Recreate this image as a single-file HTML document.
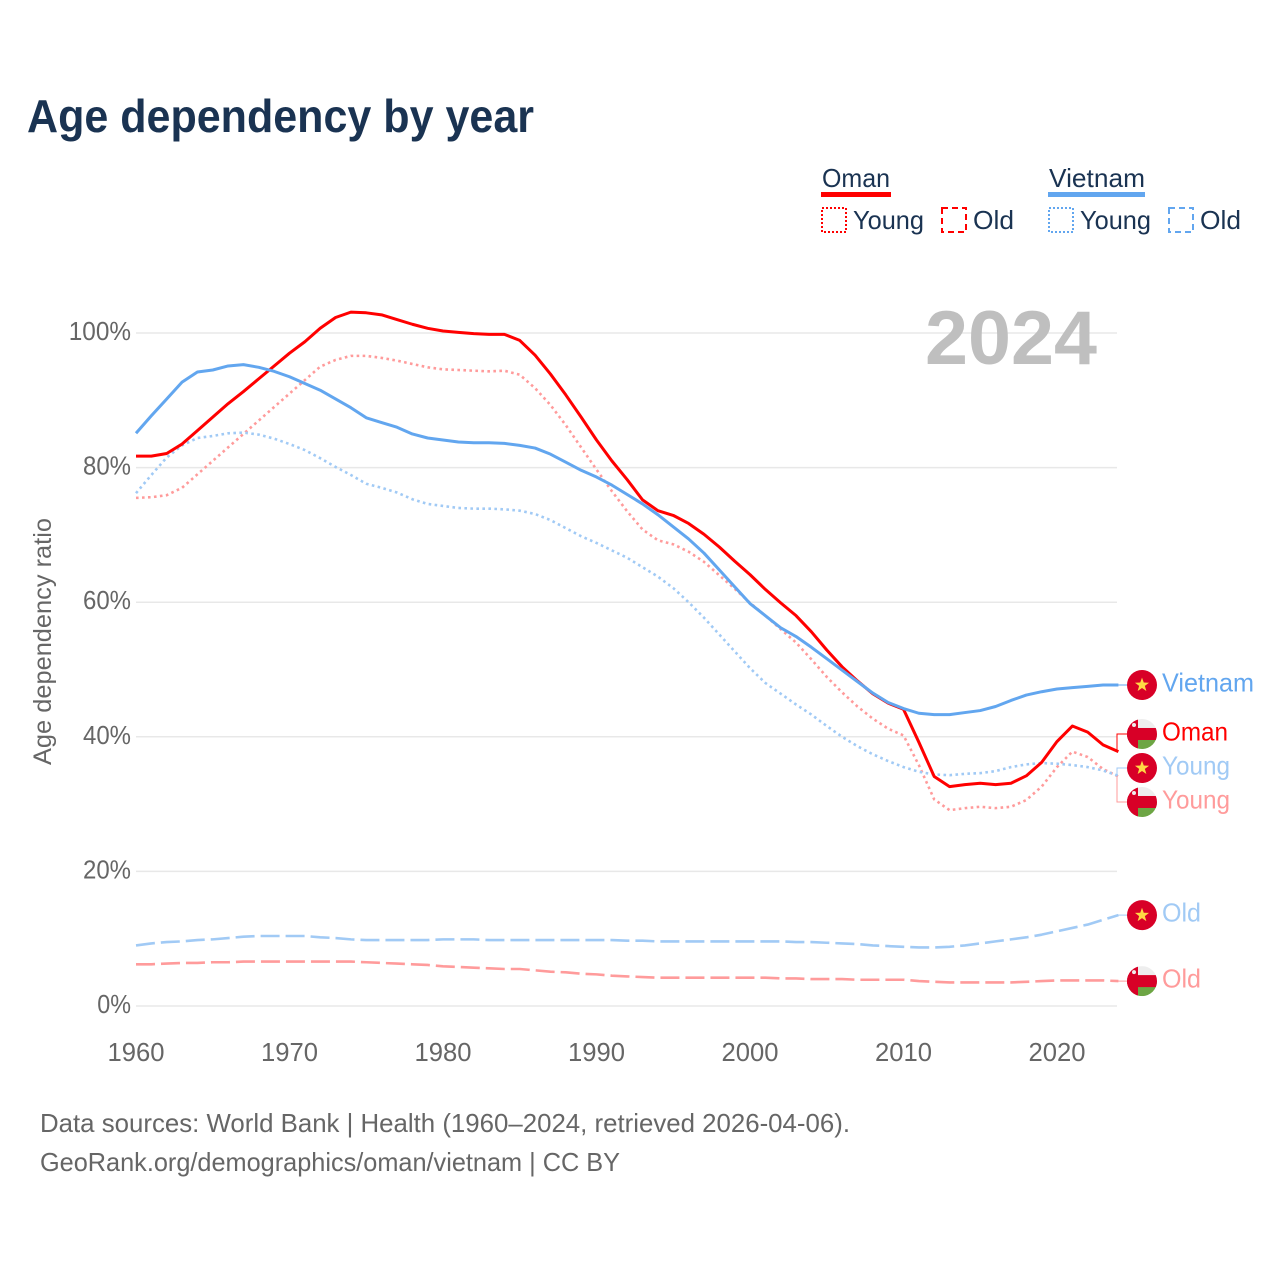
<!DOCTYPE html>
<html lang="en">
<head>
<meta charset="utf-8">
<title>Age dependency by year</title>
<style>
html,body{margin:0;padding:0;background:#fff;width:1280px;height:1280px;overflow:hidden}
svg{display:block;font-family:"Liberation Sans",sans-serif}
</style>
</head>
<body>
<svg id="chart" xmlns="http://www.w3.org/2000/svg" width="1280" height="1280" viewBox="0 0 1280 1280">
  <text x="27" y="132" font-size="46" font-weight="700" fill="#1a3352" textLength="507" lengthAdjust="spacingAndGlyphs">Age dependency by year</text>

  <g>
    <text x="822" y="187" font-size="26" fill="#1a3352" textLength="68" lengthAdjust="spacingAndGlyphs">Oman</text>
    <rect x="821" y="192" width="70" height="5" fill="#ff0000"/>
    <rect x="822" y="208" width="24" height="24" fill="none" stroke="#ff0000" stroke-width="2" stroke-dasharray="2 2"/>
    <text x="853" y="229" font-size="26" fill="#1a3352" textLength="71" lengthAdjust="spacingAndGlyphs">Young</text>
    <rect x="942" y="208" width="24" height="24" fill="none" stroke="#ff0000" stroke-width="2" stroke-dasharray="6 4"/>
    <text x="973" y="229" font-size="26" fill="#1a3352" textLength="41" lengthAdjust="spacingAndGlyphs">Old</text>

    <text x="1049" y="187" font-size="26" fill="#1a3352" textLength="96" lengthAdjust="spacingAndGlyphs">Vietnam</text>
    <rect x="1048" y="192" width="97" height="5" fill="#62a6ef"/>
    <rect x="1049" y="208" width="24" height="24" fill="none" stroke="#62a6ef" stroke-width="2" stroke-dasharray="2 2"/>
    <text x="1080" y="229" font-size="26" fill="#1a3352" textLength="71" lengthAdjust="spacingAndGlyphs">Young</text>
    <rect x="1169" y="208" width="24" height="24" fill="none" stroke="#62a6ef" stroke-width="2" stroke-dasharray="6 4"/>
    <text x="1200" y="229" font-size="26" fill="#1a3352" textLength="41" lengthAdjust="spacingAndGlyphs">Old</text>
  </g>

  <text transform="translate(51,765) rotate(-90)" font-size="25" fill="#666666" textLength="247" lengthAdjust="spacingAndGlyphs">Age dependency ratio</text>

  <g id="grid"></g>
  <g id="ticks"></g>
  <text x="925" y="364" font-size="76" font-weight="700" fill="#bfbfbf" textLength="172" lengthAdjust="spacingAndGlyphs">2024</text>
  <g id="series"></g>
  <g id="labels"></g>

  <text x="40" y="1132" font-size="26" fill="#666666" textLength="810" lengthAdjust="spacingAndGlyphs">Data sources: World Bank | Health (1960–2024, retrieved 2026-04-06).</text>
  <text x="40" y="1171" font-size="26" fill="#666666" textLength="580" lengthAdjust="spacingAndGlyphs">GeoRank.org/demographics/oman/vietnam | CC BY</text>
</svg>
<script>
const startYear = 1960;
const xTickYears = [1960, 1970, 1980, 1990, 2000, 2010, 2020];
const yTickValues = [0, 20, 40, 60, 80, 100];

const omanTotal = [81.7,81.7,82.1,83.5,85.5,87.5,89.5,91.3,93.2,95.1,97,98.7,100.7,102.3,103.1,103,102.7,102,101.3,100.7,100.3,100.1,99.9,99.8,99.8,98.9,96.7,93.9,90.8,87.5,84.1,81,78.2,75.2,73.6,72.9,71.7,70.1,68.2,66.1,64.1,61.9,59.9,58,55.6,52.9,50.4,48.3,46.4,45,44.1,39.2,34.1,32.6,32.9,33.1,32.9,33.1,34.2,36.2,39.3,41.6,40.7,38.8,37.8];
const vietnamTotal = [85.1,87.7,90.2,92.7,94.2,94.5,95.1,95.3,94.9,94.3,93.5,92.5,91.5,90.2,88.9,87.4,86.7,86,85,84.4,84.1,83.8,83.7,83.7,83.6,83.3,82.9,82,80.8,79.6,78.6,77.4,76,74.6,73,71.2,69.4,67.3,64.8,62.3,59.8,58,56.2,54.9,53.3,51.6,49.9,48.2,46.5,45.1,44.2,43.5,43.3,43.3,43.6,43.9,44.5,45.4,46.2,46.7,47.1,47.3,47.5,47.7,47.7];
const omanYoung = [75.5,75.6,75.9,77,79,81,83,85,87,89,91,93,95,96,96.6,96.6,96.3,95.9,95.4,94.9,94.6,94.5,94.4,94.3,94.4,93.8,91.8,89.3,86.3,83,79.7,76.5,73.5,70.8,69.2,68.6,67.5,66,64,62,59.9,58,56,54,51.5,48.9,46.6,44.5,42.7,41.2,40.2,35.8,30.7,29.1,29.4,29.6,29.4,29.6,30.6,32.6,35.5,37.8,37,35.2,34.1];
const vietnamYoung = [76.2,78.9,81.5,83.3,84.4,84.7,85.1,85.2,84.9,84.3,83.5,82.6,81.4,80.1,78.9,77.6,77,76.3,75.3,74.6,74.3,74,73.9,73.9,73.8,73.6,73.1,72.2,71,69.8,68.8,67.7,66.6,65.2,63.8,62.1,60,57.7,55.2,52.7,50.2,48,46.4,44.8,43.3,41.6,40,38.6,37.4,36.4,35.5,34.8,34.4,34.3,34.5,34.6,34.9,35.5,35.9,36.1,36,35.8,35.5,35,34.2];
const omanOld = [6.2,6.2,6.3,6.4,6.4,6.5,6.5,6.6,6.6,6.6,6.6,6.6,6.6,6.6,6.6,6.5,6.4,6.3,6.2,6.1,5.9,5.8,5.7,5.6,5.5,5.5,5.3,5.1,5,4.8,4.7,4.5,4.4,4.3,4.2,4.2,4.2,4.2,4.2,4.2,4.2,4.2,4.1,4.1,4,4,4,3.9,3.9,3.9,3.9,3.7,3.6,3.5,3.5,3.5,3.5,3.5,3.6,3.7,3.8,3.8,3.8,3.8,3.7];
const vietnamOld = [9,9.3,9.5,9.6,9.8,9.9,10.1,10.3,10.4,10.4,10.4,10.4,10.2,10.1,9.9,9.8,9.8,9.8,9.8,9.8,9.9,9.9,9.9,9.8,9.8,9.8,9.8,9.8,9.8,9.8,9.8,9.8,9.7,9.7,9.6,9.6,9.6,9.6,9.6,9.6,9.6,9.6,9.6,9.5,9.5,9.4,9.3,9.2,9,8.9,8.8,8.7,8.7,8.8,9,9.3,9.6,9.9,10.2,10.6,11.1,11.6,12.1,12.8,13.5];

const SVG_NS = 'http://www.w3.org/2000/svg';
const RED = '#ff0000', BLUE = '#62a6ef', PINK = '#ff9b9b', LIGHT = '#a1caf5', GREY = '#666666';
const xOf = function (year) { return 136 + (year - 1960) * 15.35; };
const yOf = function (value) { return 1006 - value * 6.73; };

function mk(tag, parent, attrs) {
  const el = document.createElementNS(SVG_NS, tag);
  for (const k in attrs) el.setAttribute(k, attrs[k]);
  parent.appendChild(el);
  return el;
}

const grid = document.getElementById('grid');
const ticks = document.getElementById('ticks');
yTickValues.forEach(function (v) {
  const line = mk('line', grid, { x1: 136, x2: 1117, y1: yOf(v), y2: yOf(v), stroke: '#e8e8e8', 'stroke-width': 1.5 });
  
  
  const s = v + '%';
  const w = (s.length - 1) * 14.25 + 19.5;
  const t = mk('text', ticks, { x: 131 - w, y: yOf(v) + 7, 'font-size': 25.6, fill: GREY, textLength: w, lengthAdjust: 'spacingAndGlyphs' });
  t.textContent = s;
  
  
});
xTickYears.forEach(function (yr) {
  const t = mk('text', ticks, { x: xOf(yr) - 28.5, y: 1061, 'font-size': 25.6, fill: GREY, textLength: 57, lengthAdjust: 'spacingAndGlyphs' });
  t.textContent = String(yr);
  
  
});

const seriesList = [
  { id: 'vietnam-old', values: vietnamOld, color: LIGHT, dash: '19 6', width: 2.6, label: 'Old', flag: 'vn' },
  { id: 'oman-old', values: omanOld, color: PINK, dash: '19 6', width: 2.6, label: 'Old', flag: 'om' },
  { id: 'oman-young', values: omanYoung, color: PINK, dash: '2.6 3.4', width: 2.6, label: 'Young', flag: 'om' },
  { id: 'vietnam-young', values: vietnamYoung, color: LIGHT, dash: '2.6 3.4', width: 2.6, label: 'Young', flag: 'vn' },
  { id: 'oman-total', values: omanTotal, color: RED, dash: '', width: 3, label: 'Oman', flag: 'om' },
  { id: 'vietnam-total', values: vietnamTotal, color: BLUE, dash: '', width: 3, label: 'Vietnam', flag: 'vn' }
];
const labelWidths = { Vietnam: 92, Oman: 66, Young: 68, Old: 39 };

const seriesGroup = document.getElementById('series');
seriesList.forEach(function (s) {
  const d = s.values.map(function (v, i) {
    return (i ? 'L' : 'M') + xOf(startYear + i).toFixed(2) + ' ' + yOf(v).toFixed(2);
  }).join(' ');
  const attrs = { d: d, fill: 'none', stroke: s.color, 'stroke-width': s.width, 'stroke-linejoin': 'round' };
  if (s.dash) attrs['stroke-dasharray'] = s.dash;
  const path = mk('path', seriesGroup, attrs);
  
  
});

// Simple label repulsion: keep labels at least 34px apart, clusters centred on their members.
const ends = seriesList.map(function (s) {
  return { s: s, y: yOf(s.values[s.values.length - 1]) };
}).sort(function (a, b) { return a.y - b.y; });
let clusters = ends.map(function (e) { return { items: [e], c: e.y }; });
let merged = true;
while (merged) {
  merged = false;
  for (let i = 0; i < clusters.length - 1; i++) {
    const a = clusters[i], b = clusters[i + 1];
    const aBottom = a.c + (a.items.length - 1) * 17;
    const bTop = b.c - (b.items.length - 1) * 17;
    if (bTop - aBottom < 34) {
      const items = a.items.concat(b.items);
      const c = items.reduce(function (t, e) { return t + e.y; }, 0) / items.length;
      clusters.splice(i, 2, { items: items, c: c });
      merged = true;
      break;
    }
  }
}
clusters.forEach(function (cl) {
  cl.items.forEach(function (e, i) {
    e.ly = cl.c + (i - (cl.items.length - 1) / 2) * 34;
  });
});

const labelGroup = document.getElementById('labels');
let clipIndex = 0;
function drawFlag(parent, kind, cy) {
  const cx = 1142, r = 15;
  const g = mk('g', parent, {});
  
  
  if (kind === 'vn') {
    mk('circle', g, { cx: cx, cy: cy, r: r, fill: '#d80027' });
    const pts = [];
    for (let i = 0; i < 10; i++) {
      const rad = i % 2 ? 3 : 7.4;
      const a = -Math.PI / 2 + i * Math.PI / 5;
      pts.push((cx + rad * Math.cos(a)).toFixed(2) + ',' + (cy + rad * Math.sin(a)).toFixed(2));
    }
    mk('polygon', g, { points: pts.join(' '), fill: '#ffda44' });
  } else {
    const id = 'omclip' + (clipIndex++);
    const clip = mk('clipPath', g, { id: id });
    mk('circle', clip, { cx: cx, cy: cy, r: r });
    const inner = mk('g', g, { 'clip-path': 'url(#' + id + ')' });
    mk('rect', inner, { x: cx - r, y: cy - r, width: 2 * r, height: r, fill: '#eeeeee' });
    mk('rect', inner, { x: cx - r, y: cy, width: 2 * r, height: r, fill: '#6da544' });
    mk('rect', inner, { x: cx - r, y: cy - 6, width: 2 * r, height: 12, fill: '#d80027' });
    mk('rect', inner, { x: cx - r, y: cy - r, width: 11, height: 2 * r, fill: '#d80027' });
    mk('circle', inner, { cx: cx - 8, cy: cy - 9, r: 2, fill: '#eeeeee' });
  }
}

ends.forEach(function (e) {
  const s = e.s;
  const g = mk('g', labelGroup, {});
  
  
  const conn = mk('path', g, {
    d: 'M1117 ' + e.y.toFixed(1) + ' V' + e.ly.toFixed(1) + ' H1128',
    fill: 'none', stroke: s.color, 'stroke-width': 1
  });
  
  
  drawFlag(g, s.flag, e.ly);
  const t = mk('text', g, {
    x: 1162, y: e.ly + 6.5, 'font-size': 26, fill: s.color,
    textLength: labelWidths[s.label], lengthAdjust: 'spacingAndGlyphs'
  });
  t.textContent = s.label;
  
  
});
</script>
</body>
</html>
